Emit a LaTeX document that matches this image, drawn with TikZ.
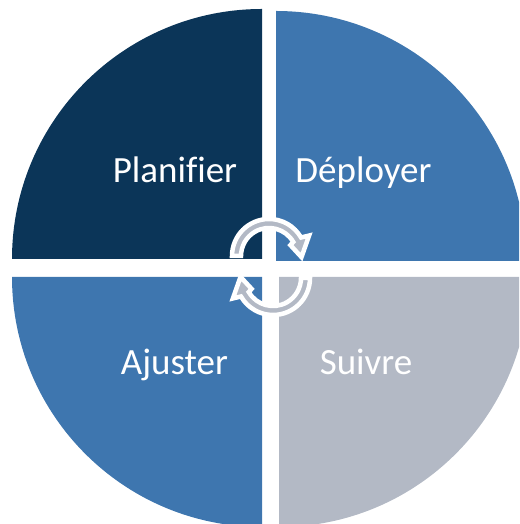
\documentclass[tikz,border=0pt]{standalone}
\usepackage{fontspec}
\setmainfont{Carlito}[Ligatures=NoCommon]
\definecolor{navy}{HTML}{0B3558}
\definecolor{midblue}{HTML}{3E76AF}
\definecolor{steelgray}{HTML}{B3B9C5}
\begin{document}
\begin{tikzpicture}[x=1pt,y=1pt,
  quarter/.style={draw=none},
  label/.style={text=white,anchor=base,font=\fontsize{37}{44}\selectfont,inner sep=0pt},
  cyclearrow/.style={fill=steelgray,draw=white,line width=4.5pt,line join=miter}]
\useasboundingbox (0,0) rectangle (519,524);
\begin{scope}
\clip (0,0) rectangle (519,524);
% four quarter sectors
\fill[navy,quarter] (262,265) -- ++(180:250) arc[start angle=180,end angle=90,radius=250] -- cycle;
\fill[midblue,quarter] (276,263) -- ++(90:250) arc[start angle=90,end angle=0,radius=250] -- cycle;
\fill[midblue,quarter] (262,247) -- ++(270:250) arc[start angle=270,end angle=180,radius=250] -- cycle;
\fill[steelgray,quarter] (279,247) -- ++(0:250) arc[start angle=0,end angle=-90,radius=250] -- cycle;
\end{scope}
% labels
\node[label] (plan) at (175,341) {Planifier};
\node[label] (depl) at (363.5,341) {Déployer};
\node[label] (ajus) at (174.5,149) {Ajuster};
\node[label] (suiv) at (366,149) {Suivre};
% circular arrows in the centre
\coordinate (cu) at (269,268);
\coordinate (cl) at (273,246);
\draw[cyclearrow] ([shift={(180:37)}]cu) arc[start angle=180,end angle=30,radius=37]
  -- ([shift={(27:45)}]cu) -- ([shift={(-2:32.5)}]cu) -- ([shift={(27:24)}]cu)
  -- ([shift={(30:28)}]cu) arc[start angle=30,end angle=180,radius=28] -- cycle;
\draw[cyclearrow] ([shift={(0:37)}]cl) arc[start angle=0,end angle=-150,radius=37]
  -- ([shift={(207:45)}]cl) -- ([shift={(178:32.5)}]cl) -- ([shift={(207:24)}]cl)
  -- ([shift={(210:28)}]cl) arc[start angle=-150,end angle=0,radius=28] -- cycle;
\end{tikzpicture}
\end{document}
